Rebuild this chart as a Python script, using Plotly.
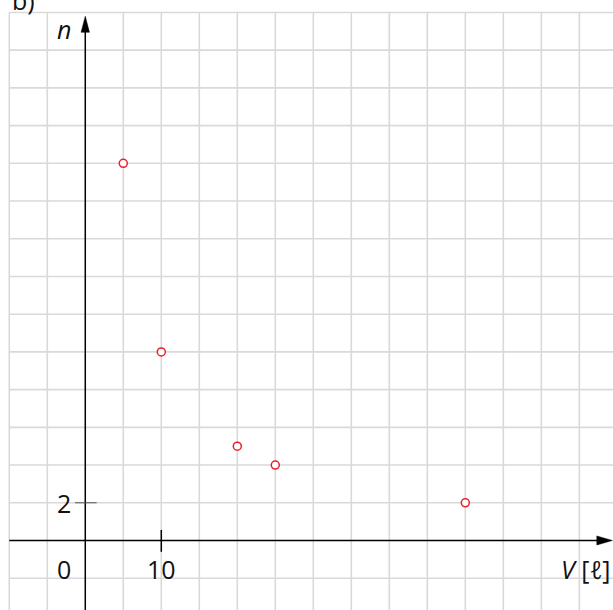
import plotly.graph_objects as go

# Data
V = [5, 10, 20, 25, 50]
n = [20, 10, 5, 4, 2]
x_tick_vals = [0, 10]
x_tick_labels = ["0", "10"]
y_tick_vals = [2]
y_tick_labels = ["2"]

W, H = 613, 610
# axis ranges chosen so that 5 units of V and 2 units of n are one grid cell
XR = [-11.22, 69.43]
YR = [-3.686, 28.66]

fig = go.Figure()

grid_col = "#d9d9d9"
shapes = []
# vertical grid lines
for gx in range(-10, 70, 5):
    if gx == 0:
        continue
    shapes.append(dict(type="line", x0=gx, x1=gx, y0=YR[0], y1=28, xref="x", yref="y",
                       line=dict(color=grid_col, width=1.6), layer="below"))
# horizontal grid lines
for gy in range(-2, 30, 2):
    if gy == 0:
        continue
    shapes.append(dict(type="line", x0=-10, x1=XR[1], y0=gy, y1=gy, xref="x", yref="y",
                       line=dict(color=grid_col, width=1.6), layer="below"))

# axes
shapes.append(dict(type="line", x0=-10, x1=68.5, y0=0, y1=0, line=dict(color="black", width=1.5)))
shapes.append(dict(type="line", x0=0, x1=0, y0=YR[0], y1=27.4, line=dict(color="black", width=1.5)))
# arrowheads
shapes.append(dict(type="path", path="M 69.35,0 L 67.3,0.24 L 67.3,-0.24 Z",
                   fillcolor="black", line=dict(color="black", width=0.5)))
shapes.append(dict(type="path", path="M 0,27.8 L -0.55,26.95 L 0.55,26.95 Z",
                   fillcolor="black", line=dict(color="black", width=0.5)))
# tick marks
shapes.append(dict(type="line", x0=10, x1=10, y0=-0.6, y1=0.56, line=dict(color="black", width=1.5)))
shapes.append(dict(type="line", x0=-1.35, x1=1.5, y0=2, y1=2, line=dict(color="#555555", width=1)))

fig.add_trace(go.Scatter(
    x=V, y=n, mode="markers",
    marker=dict(symbol="circle", size=8, color="white", line=dict(color="#e8202a", width=1.5)),
    showlegend=False, hoverinfo="skip"))

font = dict(family="Open Sans, Noto Sans, sans-serif", size=25, color="#111111")
ann = []
for v, t in zip(x_tick_vals, x_tick_labels):
    xx = v if v != 0 else -2.8
    ann.append(dict(x=xx, y=-1.5, text=t, showarrow=False, font=font, xanchor="center", yanchor="middle"))
for v, t in zip(y_tick_vals, y_tick_labels):
    ann.append(dict(x=-2.8, y=v, text=t, showarrow=False, font=font, xanchor="center", yanchor="middle"))
ann.append(dict(x=-2.8, y=27.1, text="<i>n</i>", showarrow=False, font=font, xanchor="center", yanchor="middle"))
ann.append(dict(x=69.4, y=-1.5, text="<i>V</i> [<i>ℓ</i>]", showarrow=False, font=font, xanchor="right", yanchor="middle"))
ann.append(dict(x=0.016, y=1.0, xref="paper", yref="paper", text="b)", showarrow=False,
                font=font, xanchor="left", yanchor="middle"))

fig.update_layout(
    width=W, height=H, margin=dict(l=0, r=0, t=0, b=0),
    paper_bgcolor="white", plot_bgcolor="white",
    xaxis=dict(range=XR, visible=False, showgrid=False, zeroline=False, fixedrange=True),
    yaxis=dict(range=YR, visible=False, showgrid=False, zeroline=False, fixedrange=True),
    shapes=shapes, annotations=ann,
)

fig.write_html("out.html", config={"displayModeBar": False},
               post_script="document.body.style.margin='0px';document.body.style.overflow='hidden';")
